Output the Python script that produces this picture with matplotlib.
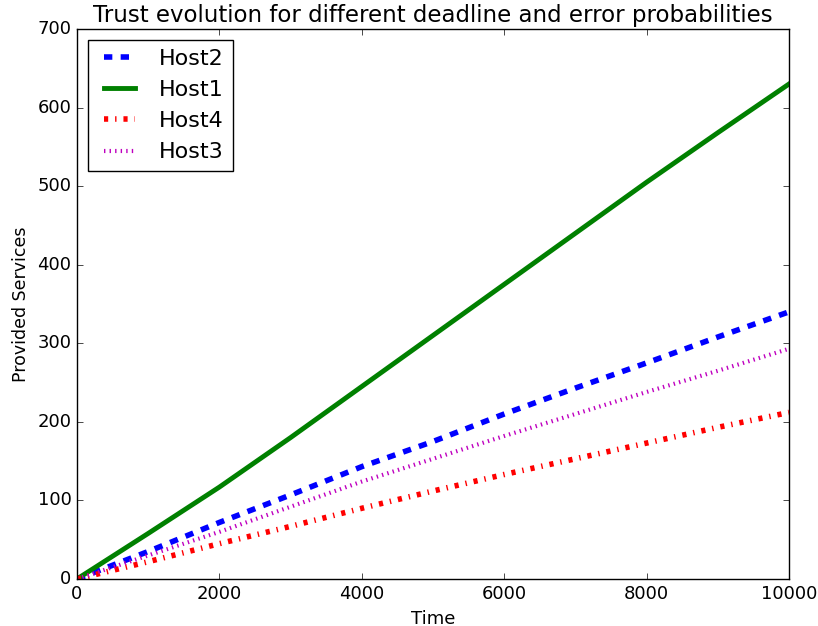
import matplotlib
matplotlib.use("Agg")
import matplotlib.pyplot as plt

# values, every 1000 time units
time = [0, 1000, 2000, 3000, 4000, 5000, 6000, 7000, 8000, 9000, 10000]
host1 = [0, 58, 117, 180, 245, 310, 375, 440, 505, 568, 630]
host2 = [0, 35, 72, 107, 143, 175, 210, 243, 275, 308, 340]
host3 = [0, 30, 60, 92, 124, 153, 182, 210, 238, 265, 293]
host4 = [0, 22, 45, 67, 90, 112, 133, 153, 173, 193, 212]

plt.style.use("classic")
fig = plt.figure(figsize=(8.18, 6.26), dpi=100)
ax = fig.add_axes([77 / 818, 1 - 579 / 626, 712 / 818, 550 / 626])

ax.plot(time, host2, "b--", linewidth=4, label="Host2")
ax.plot(time, host1, "g-", linewidth=3.5, label="Host1")
ax.plot(time, host4, "r-.", linewidth=4, label="Host4")
ax.plot(time, host3, "m:", linewidth=3, label="Host3")

ax.set_xlim(0, 10000)
ax.set_ylim(0, 700)
ax.tick_params(labelsize=13)
ax.set_title("Trust evolution for different deadline and error probabilities", fontsize=16.5)
ax.set_xlabel("Time", fontsize=13)
ax.set_ylabel("Provided Services", fontsize=12.5)
ax.legend(loc="upper left", fontsize=16)

fig.savefig("out.png", dpi=100, facecolor="white")
